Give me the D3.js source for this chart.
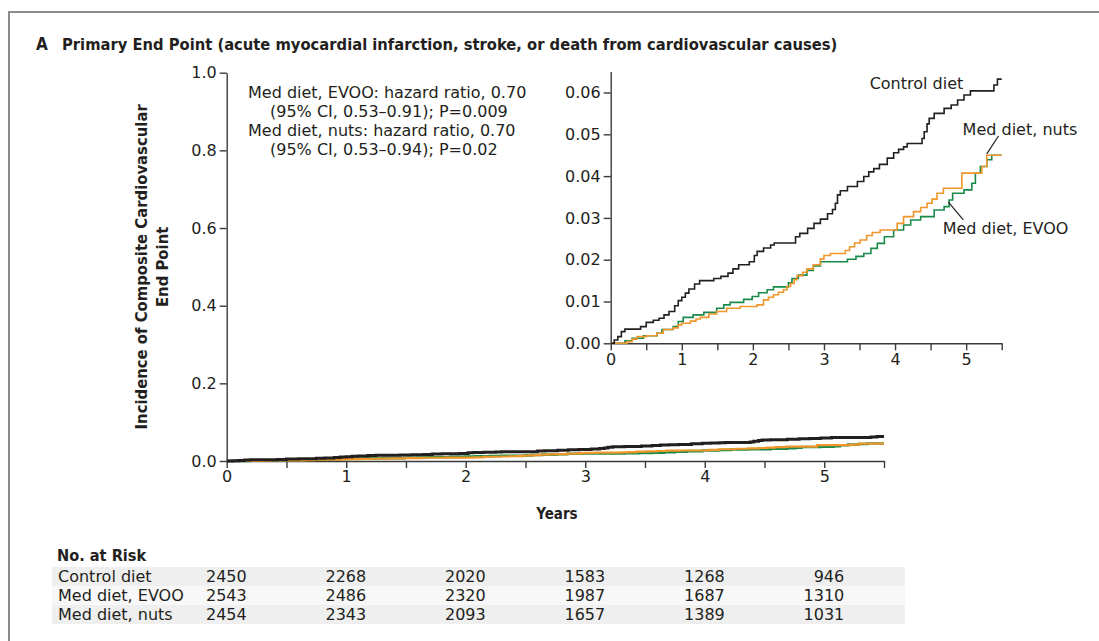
<!DOCTYPE html>
<html>
<head>
<meta charset="utf-8">
<script src="https://cdn.jsdelivr.net/npm/d3@7"></script>
<style>
  body { margin: 0; background: #fff; }
  svg text { font-family: "DejaVu Sans", sans-serif; fill: #231f20; }
  svg text.bold { font-family: "DejaVu Sans Condensed", "DejaVu Sans", sans-serif; font-stretch: condensed; font-weight: 700; }
  .axis path, .axis line { stroke: #3a3a3a; stroke-width: 1.4; }
  .axis text { font-size: 16px; font-family: "DejaVu Sans", sans-serif; fill: #231f20; }
</style>
</head>
<body>
<div id="chart"></div>
<script>
// cumulative incidence, [years, incidence]
const controlDiet = [
  [0, 0], [0.05, 0.0008], [0.1, 0.0016], [0.15, 0.0028], [0.2, 0.0034], [0.42, 0.004], [0.5, 0.005],
  [0.6, 0.0055], [0.68, 0.006], [0.75, 0.0068], [0.82, 0.0076], [0.9, 0.009], [0.95, 0.0102], [1.0, 0.011],
  [1.05, 0.012], [1.1, 0.013], [1.18, 0.0142], [1.25, 0.015], [1.45, 0.0155], [1.55, 0.016], [1.65, 0.0168],
  [1.72, 0.0178], [1.8, 0.0188], [1.95, 0.0195], [2.02, 0.021], [2.06, 0.022], [2.15, 0.0228], [2.25, 0.0235],
  [2.3, 0.024], [2.6, 0.0255], [2.66, 0.0263], [2.77, 0.0275], [2.86, 0.0287], [2.95, 0.0297], [3.05, 0.031],
  [3.12, 0.032], [3.16, 0.0335], [3.19, 0.0355], [3.23, 0.0365], [3.33, 0.0375], [3.47, 0.0387], [3.56, 0.0399],
  [3.63, 0.041], [3.7, 0.0418], [3.78, 0.0428], [3.89, 0.0443], [3.98, 0.0456], [4.05, 0.0464], [4.12, 0.047],
  [4.17, 0.0478], [4.38, 0.049], [4.41, 0.0506], [4.45, 0.0525], [4.48, 0.0538], [4.55, 0.055], [4.69, 0.0562],
  [4.79, 0.057], [4.88, 0.0582], [4.97, 0.0594], [5.06, 0.0604], [5.39, 0.0618], [5.44, 0.0632], [5.5, 0.0632]
];
const medNuts = [
  [0, 0], [0.15, 0], [0.23, 0.0004], [0.3, 0.001], [0.37, 0.0016], [0.5, 0.0018], [0.65, 0.0024], [0.74, 0.0033],
  [0.88, 0.0037], [0.95, 0.0044], [1.0, 0.0048], [1.12, 0.0053], [1.2, 0.0058], [1.26, 0.0062], [1.38, 0.007],
  [1.49, 0.0076], [1.63, 0.0084], [1.82, 0.0088], [2.06, 0.0092], [2.15, 0.0104], [2.22, 0.011], [2.29, 0.0116],
  [2.36, 0.0122], [2.43, 0.0128], [2.48, 0.0136], [2.53, 0.0143], [2.58, 0.0152], [2.62, 0.0162], [2.7, 0.017],
  [2.76, 0.0178], [2.85, 0.0188], [2.95, 0.0202], [3.0, 0.021], [3.09, 0.0215], [3.3, 0.0222], [3.36, 0.0231],
  [3.43, 0.024], [3.51, 0.0247], [3.6, 0.0258], [3.68, 0.0265], [3.79, 0.0271], [4.03, 0.0287], [4.12, 0.0303],
  [4.26, 0.0315], [4.36, 0.0325], [4.45, 0.0335], [4.52, 0.0345], [4.59, 0.0359], [4.68, 0.0371], [4.94, 0.0407],
  [5.22, 0.0423], [5.29, 0.045], [5.5, 0.045]
];
const medEvoo = [
  [0, 0], [0.18, 0], [0.2, 0.0006], [0.3, 0.0012], [0.46, 0.0018], [0.65, 0.0024], [0.72, 0.0033], [0.88, 0.004],
  [0.95, 0.0052], [1.02, 0.0062], [1.16, 0.0068], [1.31, 0.0074], [1.49, 0.0084], [1.59, 0.0092], [1.68, 0.0098],
  [1.87, 0.0105], [1.99, 0.0112], [2.08, 0.0121], [2.2, 0.0128], [2.29, 0.0135], [2.5, 0.0145], [2.55, 0.0155],
  [2.64, 0.0163], [2.76, 0.0174], [2.85, 0.0185], [2.95, 0.0195], [3.33, 0.0201], [3.45, 0.0208], [3.56, 0.0215],
  [3.66, 0.0227], [3.75, 0.0239], [3.85, 0.0255], [3.98, 0.0271], [4.12, 0.0283], [4.22, 0.0295], [4.36, 0.0303],
  [4.55, 0.0319], [4.69, 0.0327], [4.76, 0.0343], [4.81, 0.0359], [4.97, 0.0367], [5.08, 0.0383], [5.13, 0.0407],
  [5.2, 0.0423], [5.29, 0.0439], [5.36, 0.045], [5.5, 0.045]
];

const riskGroups = ['Control diet', 'Med diet, EVOO', 'Med diet, nuts'];
const riskYears = [0, 1, 2, 3, 4, 5];
const riskControl = [2450, 2268, 2020, 1583, 1268, 946];
const riskEvoo = [2543, 2486, 2320, 1987, 1687, 1310];
const riskNuts = [2454, 2343, 2093, 1657, 1389, 1031];

const hrLines = [
  'Med diet, EVOO: hazard ratio, 0.70',
  '(95% CI, 0.53\u20130.91); P=0.009',
  'Med diet, nuts: hazard ratio, 0.70',
  '(95% CI, 0.53\u20130.94);  P=0.02'
];

const mainYTicks = [0, 0.2, 0.4, 0.6, 0.8, 1.0];
const insetYTicks = [0, 0.01, 0.02, 0.03, 0.04, 0.05, 0.06];
const xTicks = [0, 0.5, 1, 1.5, 2, 2.5, 3, 3.5, 4, 4.5, 5, 5.5];

const colors = { control: '#231f20', evoo: '#1a8a4a', nuts: '#f0962a' };
const fs = '16px';

const width = 1099, height = 641;
const svg = d3.select('#chart').append('svg')
  .attr('width', width)
  .attr('height', height);

// outer frame
svg.append('rect')
  .attr('x', 9).attr('y', 12)
  .attr('width', 1100).attr('height', 700)
  .attr('fill', 'none')
  .attr('stroke', '#8c8c8c')
  .attr('stroke-width', 2);

svg.append('text').attr('class', 'bold')
  .attr('x', 36).attr('y', 50)
  .style('font-size', '17px')
  .text('A');
svg.append('text').attr('class', 'bold')
  .attr('x', 62).attr('y', 50)
  .style('font-size', '16.4px')
  .text('Primary End Point (acute myocardial infarction, stroke, or death from cardiovascular causes)');

// main chart
const x = d3.scaleLinear().domain([0, 5.5]).range([226.7, 884]);
const y = d3.scaleLinear().domain([0, 1]).range([461, 72.7]);

svg.append('g')
  .attr('class', 'axis')
  .attr('transform', `translate(${x(0)},0)`)
  .call(d3.axisLeft(y).tickValues(mainYTicks).tickFormat(d3.format('.1f')).tickSize(7).tickSizeOuter(0));

svg.append('g')
  .attr('class', 'axis')
  .attr('transform', `translate(0,${y(0)})`)
  .call(d3.axisBottom(x).tickValues(xTicks)
    .tickFormat(d => Number.isInteger(d) ? d : '').tickSize(7).tickSizeOuter(0));

const line = d3.line().x(d => x(d[0])).y(d => y(d[1])).curve(d3.curveStepAfter);
svg.append('path').datum(medEvoo).attr('d', line)
  .attr('fill', 'none').attr('stroke', colors.evoo).attr('stroke-width', 2.6);
svg.append('path').datum(medNuts).attr('d', line)
  .attr('fill', 'none').attr('stroke', colors.nuts).attr('stroke-width', 2.2);
svg.append('path').datum(controlDiet).attr('d', line)
  .attr('fill', 'none').attr('stroke', colors.control).attr('stroke-width', 3);

svg.append('text').attr('class', 'bold')
  .attr('transform', `translate(147,${(y(0) + y(1)) / 2}) rotate(-90)`)
  .attr('text-anchor', 'middle')
  .style('font-size', '16.5px')
  .text('Incidence of Composite Cardiovascular');
svg.append('text').attr('class', 'bold')
  .attr('transform', `translate(168,${(y(0) + y(1)) / 2}) rotate(-90)`)
  .attr('text-anchor', 'middle')
  .style('font-size', '16.5px')
  .text('End Point');

svg.append('text').attr('class', 'bold')
  .attr('x', 557).attr('y', 519)
  .attr('text-anchor', 'middle')
  .style('font-size', '15px')
  .text('Years');

// hazard ratio notes
svg.append('g').selectAll('text').data(hrLines).enter().append('text')
  .attr('x', (d, i) => i % 2 ? 270 : 248)
  .attr('y', (d, i) => 98 + i * 19)
  .style('font-size', fs)
  .text(d => d);

// inset
const xi = d3.scaleLinear().domain([0, 5.5]).range([610.7, 1001.7]);
const yi = d3.scaleLinear().domain([0, 0.065]).range([343.3, 343.3 - 0.065 * 4180]);

svg.append('g')
  .attr('class', 'axis')
  .attr('transform', `translate(${xi(0)},0)`)
  .call(d3.axisLeft(yi).tickValues(insetYTicks).tickFormat(d3.format('.2f')).tickSize(7).tickSizeOuter(0));

svg.append('g')
  .attr('class', 'axis')
  .attr('transform', `translate(0,${yi(0)})`)
  .call(d3.axisBottom(xi).tickValues(xTicks)
    .tickFormat(d => Number.isInteger(d) ? d : '').tickSize(7).tickSizeOuter(0));

const lineInset = d3.line().x(d => xi(d[0])).y(d => yi(d[1])).curve(d3.curveStepAfter);
svg.append('path').datum(medEvoo).attr('d', lineInset)
  .attr('fill', 'none').attr('stroke', colors.evoo).attr('stroke-width', 1.6);
svg.append('path').datum(medNuts).attr('d', lineInset)
  .attr('fill', 'none').attr('stroke', colors.nuts).attr('stroke-width', 1.6);
svg.append('path').datum(controlDiet).attr('d', lineInset)
  .attr('fill', 'none').attr('stroke', colors.control).attr('stroke-width', 1.6);

svg.append('text')
  .attr('x', xi(4.96)).attr('y', yi(0.0608))
  .attr('text-anchor', 'end')
  .style('font-size', fs)
  .text('Control diet');
svg.append('text')
  .attr('x', xi(4.95)).attr('y', yi(0.0499))
  .style('font-size', fs)
  .text('Med diet, nuts');
svg.append('line')
  .attr('x1', xi(5.455)).attr('y1', yi(0.0496))
  .attr('x2', xi(5.29)).attr('y2', yi(0.0453))
  .attr('stroke', '#231f20').attr('stroke-width', 1.2);
svg.append('text')
  .attr('x', xi(4.67)).attr('y', yi(0.0262))
  .style('font-size', fs)
  .text('Med diet, EVOO');
svg.append('line')
  .attr('x1', xi(4.75)).attr('y1', yi(0.0338))
  .attr('x2', xi(4.96)).attr('y2', yi(0.0295))
  .attr('stroke', '#231f20').attr('stroke-width', 1.2);

// number at risk
svg.append('text').attr('class', 'bold')
  .attr('x', 57).attr('y', 561)
  .style('font-size', '16.2px')
  .text('No. at Risk');

const riskRows = [riskControl, riskEvoo, riskNuts];
const rowY = d3.scaleBand().domain(riskGroups).range([567, 624]);

const rows = svg.append('g').selectAll('g').data(riskGroups).enter().append('g')
  .attr('transform', d => `translate(0,${rowY(d)})`);

rows.append('rect')
  .attr('x', 52).attr('width', 853)
  .attr('height', rowY.bandwidth())
  .attr('fill', (d, i) => i % 2 ? '#f8f8f8' : '#efefef');

rows.append('text')
  .attr('x', 58).attr('y', rowY.bandwidth() / 2 + 5.5)
  .style('font-size', fs)
  .text(d => d);

rows.each(function (g, i) {
  d3.select(this).selectAll('.n').data(riskRows[i]).enter().append('text')
    .attr('class', 'n')
    .attr('x', (d, j) => x(riskYears[j]) + 20)
    .attr('y', rowY.bandwidth() / 2 + 5.5)
    .attr('text-anchor', 'end')
    .style('font-size', fs)
    .text(d => d);
});
</script>
</body>
</html>
